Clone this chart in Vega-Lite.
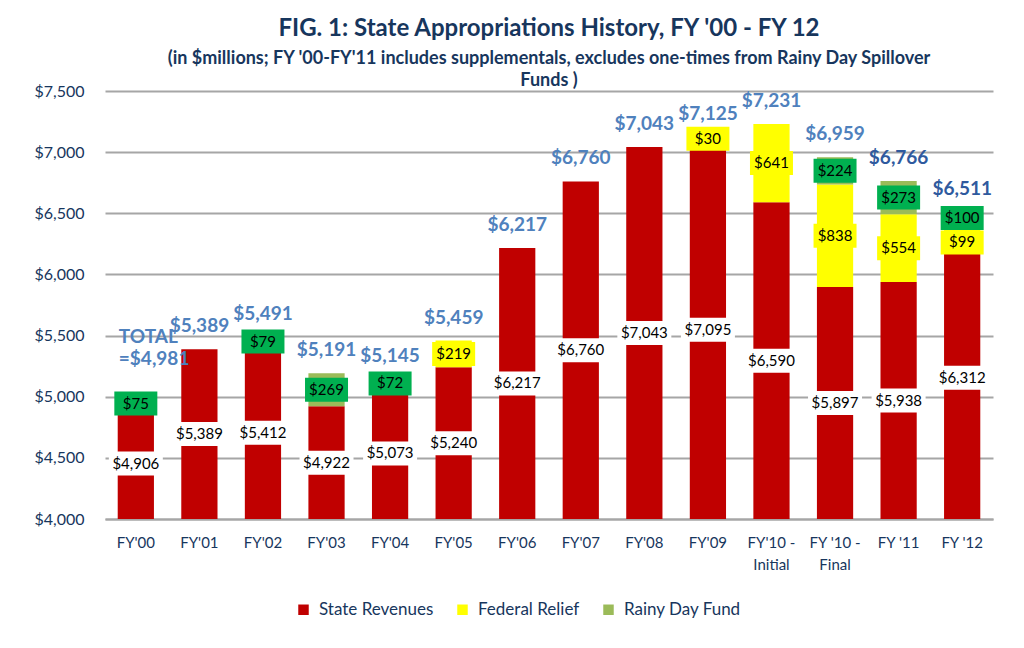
{
  "$schema": "https://vega.github.io/schema/vega-lite/v6.json",
  "width": 888,
  "height": 428,
  "autosize": {"type": "none"},
  "padding": {"left": 105, "top": 91, "right": 31, "bottom": 129},
  "background": "white",
  "title": {
    "text": "FIG. 1: State Appropriations History, FY '00 - FY 12",
    "subtitle": ["(in $millions; FY '00-FY'11  includes supplementals, excludes one-times from Rainy Day Spillover", "Funds )"],
    "anchor": "middle",
    "font": "Lato",
    "fontSize": 24,
    "fontWeight": "bold",
    "color": "#17365D",
    "subtitleFont": "Lato",
    "subtitleFontSize": 18,
    "subtitleFontWeight": "bold",
    "subtitleColor": "#17365D",
    "subtitleLineHeight": 22,
    "subtitlePadding": 9,
    "offset": -7
  },
  "datasets": {
    "totals": [
      {"year": "FY'00", "total": 4981},
      {"year": "FY'01", "total": 5389},
      {"year": "FY'02", "total": 5491},
      {"year": "FY'03", "total": 5191},
      {"year": "FY'04", "total": 5145},
      {"year": "FY'05", "total": 5459},
      {"year": "FY'06", "total": 6217},
      {"year": "FY'07", "total": 6760},
      {"year": "FY'08", "total": 7043},
      {"year": "FY'09", "total": 7125},
      {"year": "FY'10 - Initial", "total": 7231},
      {"year": "FY '10 - Final", "total": 6959},
      {"year": "FY '11", "total": 6766},
      {"year": "FY '12", "total": 6511}
    ]
  },
  "data": {
    "values": [
      {"year": "FY'00", "source": "State Revenues", "value": 4906},
      {"year": "FY'01", "source": "State Revenues", "value": 5389},
      {"year": "FY'02", "source": "State Revenues", "value": 5412},
      {"year": "FY'03", "source": "State Revenues", "value": 4922},
      {"year": "FY'04", "source": "State Revenues", "value": 5073},
      {"year": "FY'05", "source": "State Revenues", "value": 5240},
      {"year": "FY'06", "source": "State Revenues", "value": 6217},
      {"year": "FY'07", "source": "State Revenues", "value": 6760},
      {"year": "FY'08", "source": "State Revenues", "value": 7043},
      {"year": "FY'09", "source": "State Revenues", "value": 7095},
      {"year": "FY'10 - Initial", "source": "State Revenues", "value": 6590},
      {"year": "FY '10 - Final", "source": "State Revenues", "value": 5897},
      {"year": "FY '11", "source": "State Revenues", "value": 5938},
      {"year": "FY '12", "source": "State Revenues", "value": 6312},
      {"year": "FY'05", "source": "Federal Relief", "value": 219},
      {"year": "FY'09", "source": "Federal Relief", "value": 30},
      {"year": "FY'10 - Initial", "source": "Federal Relief", "value": 641},
      {"year": "FY '10 - Final", "source": "Federal Relief", "value": 838},
      {"year": "FY '11", "source": "Federal Relief", "value": 554},
      {"year": "FY '12", "source": "Federal Relief", "value": 99},
      {"year": "FY'00", "source": "Rainy Day Fund", "value": 75},
      {"year": "FY'02", "source": "Rainy Day Fund", "value": 79},
      {"year": "FY'03", "source": "Rainy Day Fund", "value": 269},
      {"year": "FY'04", "source": "Rainy Day Fund", "value": 72},
      {"year": "FY '10 - Final", "source": "Rainy Day Fund", "value": 224},
      {"year": "FY '11", "source": "Rainy Day Fund", "value": 273},
      {"year": "FY '12", "source": "Rainy Day Fund", "value": 100}
    ]
  },
  "transform": [
    {"calculate": "indexof(['State Revenues','Federal Relief','Rainy Day Fund'], datum.source)", "as": "ord"},
    {"stack": "value", "groupby": ["year"], "sort": [{"field": "ord", "order": "ascending"}], "as": ["v0", "v1"]},
    {"calculate": "datum.year == \"FY '12\" && datum.source == 'Federal Relief' ? datum.v0 - 50 : (max(datum.v0, 4000) + datum.v1) / 2", "as": "mid"}
  ],
  "encoding": {
    "x": {
      "field": "year",
      "type": "nominal",
      "sort": ["FY'00", "FY'01", "FY'02", "FY'03", "FY'04", "FY'05", "FY'06", "FY'07", "FY'08", "FY'09", "FY'10 - Initial", "FY '10 - Final", "FY '11", "FY '12"],
      "scale": {"paddingInner": 0.43, "paddingOuter": 0.2},
      "axis": {
        "title": null,
        "labelAngle": 0,
        "labelFont": "Lato",
        "labelFontSize": 15,
        "labelColor": "#17365D",
        "labelPadding": 16,
        "labelLineHeight": 22,
        "labelBaseline": "top",
        "ticks": false,
        "domainColor": "#A6A6A6",
        "domainWidth": 2,
        "labelExpr": "indexof(datum.label, ' - ') > 0 ? [slice(datum.label, 0, indexof(datum.label, ' - ') + 2), slice(datum.label, indexof(datum.label, ' - ') + 3)] : datum.label"
      }
    }
  },
  "layer": [
    {
      "mark": {"type": "bar", "clip": true},
      "encoding": {
        "y": {
          "field": "v0",
          "type": "quantitative",
          "scale": {"domain": [4000, 7500], "nice": false, "zero": false},
          "axis": {
            "title": null,
            "values": [4000, 4500, 5000, 5500, 6000, 6500, 7000, 7500],
            "format": "$,.0f",
            "labelFont": "Lato",
            "labelFontSize": 16,
            "labelColor": "#17365D",
            "labelPadding": 21,
            "ticks": false,
            "domain": false,
            "gridColor": "#A6A6A6",
            "gridWidth": 2
          }
        },
        "y2": {"field": "v1"},
        "color": {
          "field": "source",
          "type": "nominal",
          "scale": {"domain": ["State Revenues", "Federal Relief", "Rainy Day Fund"], "range": ["#C00000", "#FFFF00", "#9BBB59"]},
          "legend": {
            "title": null,
            "orient": "none",
            "legendX": 190,
            "legendY": 510,
            "direction": "horizontal",
            "symbolType": "square",
            "symbolSize": 110,
            "symbolStrokeWidth": 0,
            "labelFont": "Lato",
            "labelFontSize": 17,
            "labelColor": "#17365D",
            "columnPadding": 20,
            "labelOffset": 7
          }
        }
      }
    },
    {
      "transform": [{"filter": "datum.source == 'State Revenues'"}],
      "mark": {"type": "tick", "color": "white", "opacity": 1, "size": 54, "thickness": 24},
      "encoding": {
        "y": {"field": "mid", "type": "quantitative", "title": null}
      }
    },
    {
      "transform": [{"filter": "datum.source != 'State Revenues'"}],
      "mark": {"type": "tick", "opacity": 1, "size": 43, "thickness": 24, "filled": true},
      "encoding": {
        "y": {"field": "mid", "type": "quantitative", "title": null},
        "fill": {
          "field": "source",
          "type": "nominal",
          "scale": {"domain": ["Federal Relief", "Rainy Day Fund"], "range": ["#FFFF00", "#00B050"]},
          "legend": null
        }
      }
    },
    {
      "mark": {"type": "text", "font": "Lato", "fontSize": 15, "color": "black", "baseline": "middle", "align": "center"},
      "encoding": {
        "y": {"field": "mid", "type": "quantitative", "title": null},
        "text": {"field": "value", "type": "quantitative", "format": "$,.0f"}
      }
    },
    {
      "data": {"name": "totals"},
      "transform": [{"filter": "datum.year != \"FY'00\""}],
      "mark": {"type": "text", "font": "Lato", "fontSize": 19, "fontWeight": "bold", "baseline": "bottom", "align": "center", "dy": -13},
      "encoding": {
        "y": {"field": "total", "type": "quantitative", "title": null},
        "text": {"field": "total", "type": "quantitative", "format": "$,.0f"},
        "color": {
          "condition": {"test": "datum.year == \"FY '11\" || datum.year == \"FY '12\"", "value": "#2F5A9E"},
          "value": "#4F81BD"
        }
      }
    },
    {
      "data": {"name": "totals"},
      "transform": [{"filter": "datum.year == \"FY'00\""}],
      "mark": {"type": "text", "font": "Lato", "fontSize": 19, "fontWeight": "bold", "baseline": "bottom", "align": "left", "dx": -17, "dy": -52, "lineBreak": "\n", "lineHeight": 22, "color": "#4F81BD"},
      "encoding": {
        "y": {"field": "total", "type": "quantitative", "title": null},
        "text": {"value": "TOTAL\n=$4,981"}
      }
    }
  ],
  "config": {
    "view": {"stroke": null}
  }
}
